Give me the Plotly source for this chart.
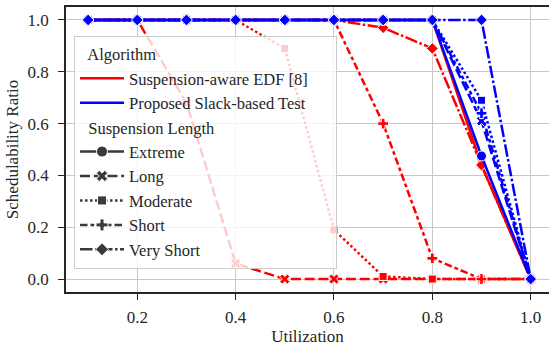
import plotly.graph_objects as go

utilization = [0.1, 0.2, 0.3, 0.4, 0.5, 0.6, 0.7, 0.8, 0.9, 1.0]
lengths = ["Extreme", "Long", "Moderate", "Short", "Very Short"]

# Suspension-aware EDF [8]
edf_extreme    = [1.0, 1.0, 1.0, 1.0, 1.0, 1.0, 1.0, 1.0, 0.44, 0.0]
edf_long       = [1.0, 1.0, 0.68, 0.06, 0.0, 0.0, 0.0, 0.0, 0.0, 0.0]
edf_moderate   = [1.0, 1.0, 1.0, 1.0, 0.89, 0.19, 0.01, 0.0, 0.0, 0.0]
edf_short      = [1.0, 1.0, 1.0, 1.0, 1.0, 1.0, 0.60, 0.08, 0.0, 0.0]
edf_very_short = [1.0, 1.0, 1.0, 1.0, 1.0, 1.0, 0.97, 0.89, 0.44, 0.0]

# Proposed Slack-based Test
prop_extreme    = [1.0, 1.0, 1.0, 1.0, 1.0, 1.0, 1.0, 1.0, 0.475, 0.0]
prop_long       = [1.0, 1.0, 1.0, 1.0, 1.0, 1.0, 1.0, 1.0, 0.61, 0.0]
prop_moderate   = [1.0, 1.0, 1.0, 1.0, 1.0, 1.0, 1.0, 1.0, 0.69, 0.0]
prop_short      = [1.0, 1.0, 1.0, 1.0, 1.0, 1.0, 1.0, 1.0, 0.64, 0.0]
prop_very_short = [1.0, 1.0, 1.0, 1.0, 1.0, 1.0, 1.0, 1.0, 1.0, 0.0]

x_ticks = [0.2, 0.4, 0.6, 0.8, 1.0]
y_ticks = [0.0, 0.2, 0.4, 0.6, 0.8, 1.0]

FONT = "Liberation Serif"
FS = 17
LFS = 16.5
LW = 2.5
RED = "#ff0000"
BLUE = "#0000ff"
GRAY = "#3a3a3a"
TXT = "#262626"

dashes = {
    "Extreme": "solid",
    "Long": "10px,3.75px",
    "Moderate": "2.5px,2.5px",
    "Short": "7.5px,3px,3.75px,3px",
    "Very Short": "12.5px,2.5px,2.5px,2.5px",
}
symbols = {
    "Extreme": ("circle", 10),
    "Long": ("x", 9),
    "Moderate": ("square", 8),
    "Short": ("cross", 9),
    "Very Short": ("diamond", 9),
}

fig = go.Figure()

series = [
    (RED, [edf_extreme, edf_long, edf_moderate, edf_short, edf_very_short]),
    (BLUE, [prop_extreme, prop_long, prop_moderate, prop_short, prop_very_short]),
]
for color, vals in series:
    for name, y in zip(lengths, vals):
        sym, size = symbols[name]
        fig.add_trace(go.Scatter(
            x=utilization, y=y, mode="lines+markers", showlegend=False,
            line=dict(color=color, width=LW, dash=dashes[name]),
            marker=dict(symbol=sym, size=size, color=color,
                        line=dict(color="white", width=1)),
            hoverinfo="skip",
        ))

# legend entries
fig.add_trace(go.Scatter(x=[None], y=[None], mode="lines", name="Suspension-aware EDF [8]",
                         line=dict(color=RED, width=LW), legendgroup="a1",
                         legendgrouptitle=dict(text="  Algorithm"), legendrank=1))
fig.add_trace(go.Scatter(x=[None], y=[None], mode="lines",
                         name="Proposed Slack-based Test" + "\u00a0" * 6,
                         line=dict(color=BLUE, width=LW), legendgroup="a2", legendrank=2))
for i, name in enumerate(lengths):
    sym, size = symbols[name]
    kw = {}
    if i == 0:
        kw["legendgrouptitle"] = dict(text="  Suspension Length")
    fig.add_trace(go.Scatter(
        x=[None], y=[None], mode="lines+markers", name=name,
        line=dict(color=GRAY, width=LW, dash=dashes[name]),
        marker=dict(symbol=sym, size=size + 1, color=GRAY, line=dict(color="white", width=1)),
        legendgroup="s%d" % i, legendrank=3 + i, **kw))

axis_common = dict(
    showgrid=True, gridcolor="#c8c8c8", gridwidth=1.2,
    showline=True, linecolor=TXT, linewidth=1.6,
    ticks="outside", ticklen=6, tickwidth=1.2, tickcolor=TXT,
    tickfont=dict(family=FONT, size=FS, color=TXT),
    zeroline=False, automargin=False,
)

fig.update_layout(
    width=549, height=346,
    margin=dict(l=66, r=0, t=7, b=54),
    paper_bgcolor="white", plot_bgcolor="white",
    font=dict(family=FONT, size=FS, color=TXT),
    xaxis=dict(range=[0.055, 1.0373], tickvals=x_ticks, ticktext=["%.1f" % v for v in x_ticks],
               mirror=True, ticklabelstandoff=3,
               title=dict(text="Utilization", font=dict(family=FONT, size=FS), standoff=0),
               **axis_common),
    yaxis=dict(range=[-0.05, 1.05], tickvals=y_ticks, ticktext=["%.1f" % v for v in y_ticks],
               mirror=False, ticklabelstandoff=6,
               title=dict(text="Schedulability Ratio", font=dict(family=FONT, size=FS), standoff=5),
               **axis_common),
    legend=dict(
        x=0.0166, y=0.90, xanchor="left", yanchor="top",
        bgcolor="rgba(255,255,255,0.8)", bordercolor="#cccccc", borderwidth=1,
        font=dict(family=FONT, size=LFS, color=TXT),
        grouptitlefont=dict(family=FONT, size=LFS, color=TXT),
        traceorder="grouped", tracegroupgap=0, itemwidth=44,
    ),
)

fig.write_html("out.html", config={"displayModeBar": False},
               post_script="document.body.style.margin='0px';")
